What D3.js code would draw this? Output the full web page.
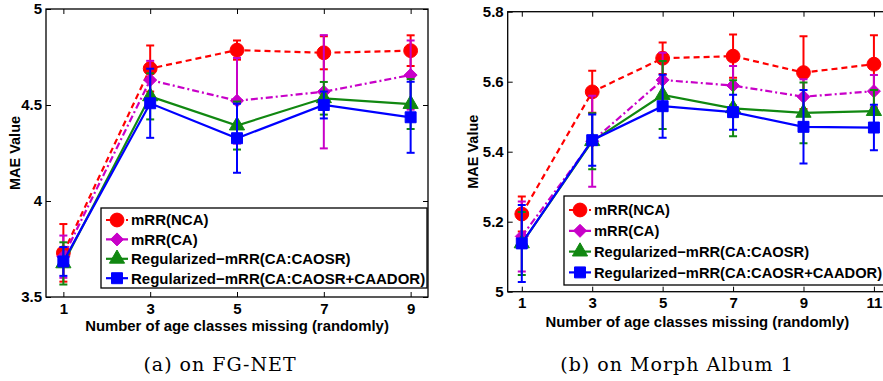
<!DOCTYPE html>
<html>
<head>
<meta charset="utf-8">
<script src="https://cdnjs.cloudflare.com/ajax/libs/d3/7.8.5/d3.min.js"></script>
<style>
  body { margin: 0; background: #fff; }
  svg { display: block; }
</style>
</head>
<body>
<svg id="chart" width="883" height="381"></svg>
<script>
// Series names (legend)
const seriesNames = ['mRR(NCA)', 'mRR(CA)', 'Regularized\u2212mRR(CA:CAOSR)', 'Regularized\u2212mRR(CA:CAOSR+CAADOR)'];

// (a) FG-NET
const fgX = [1, 3, 5, 7, 9];
const fgNCA = [3.73, 4.69, 4.786, 4.772, 4.783];
const fgNCAErr = [0.15, 0.12, 0.05, 0.086, 0.08];
const fgCA = [3.71, 4.63, 4.522, 4.569, 4.656];
const fgCAErr = [0.11, 0.1, 0.223, 0.295, 0.18];
const fgCAOSR = [3.675, 4.545, 4.393, 4.535, 4.505];
const fgCAOSRErr = [0.11, 0.12, 0.125, 0.085, 0.13];
const fgCAADOR = [3.685, 4.509, 4.327, 4.5, 4.436];
const fgCAADORErr = [0.075, 0.18, 0.18, 0.07, 0.185];
const fgYTicks = [3.5, 4, 4.5, 5];

// (b) Morph Album 1
const mbX = [1, 3, 5, 7, 9, 11];
const mbNCA = [5.222, 5.571, 5.667, 5.673, 5.626, 5.65];
const mbNCAErr = [0.05, 0.06, 0.045, 0.062, 0.104, 0.083];
const mbCA = [5.158, 5.43, 5.605, 5.589, 5.557, 5.573];
const mbCAErr = [0.1, 0.13, 0.078, 0.056, 0.05, 0.046];
const mbCAOSR = [5.138, 5.43, 5.562, 5.524, 5.511, 5.516];
const mbCAOSRErr = [0.09, 0.08, 0.097, 0.08, 0.087, 0.06];
const mbCAADOR = [5.138, 5.433, 5.53, 5.513, 5.471, 5.469];
const mbCAADORErr = [0.11, 0.073, 0.09, 0.05, 0.105, 0.065];
const mbYTicks = [5, 5.2, 5.4, 5.6, 5.8];

// Styles per series
const STYLES = [
  { color: '#ff0000', dash: '6,4', marker: 'circle' },
  { color: '#c800c8', dash: '7,3,2,3', marker: 'diamond' },
  { color: '#118811', dash: null, marker: 'triangle' },
  { color: '#0000ff', dash: null, marker: 'square' }
];

const FONT = '"Liberation Sans", Arial, Helvetica, sans-serif';
const svg = d3.select('#chart');

function markerPath(type) {
  if (type === 'circle') return d3.symbol(d3.symbolCircle, 150)();
  if (type === 'triangle') return d3.symbol(d3.symbolTriangle, 100)();
  if (type === 'square') return d3.symbol(d3.symbolSquare, 120)();
  // MATLAB style diamond: equal width and height
  const s = 6.5;
  return `M0,${-s}L${s},0L0,${s}L${-s},0Z`;
}

function drawPanel(cfg) {
  const g = svg.append('g');
  const x = d3.scaleLinear().domain(cfg.xDomain).range([cfg.left, cfg.right]);
  const y = d3.scaleLinear().domain(cfg.yDomain).range([cfg.bottom, cfg.top]);

  const clipId = 'clip-' + cfg.id;
  svg.append('clipPath').attr('id', clipId)
    .append('rect')
    .attr('x', cfg.left).attr('y', cfg.top)
    .attr('width', cfg.right - cfg.left).attr('height', cfg.bottom - cfg.top);

  // Axes (ticks inward, box on)
  const tickLen = 5;
  const axB = d3.axisBottom(x).tickValues(cfg.x).tickSizeInner(-tickLen).tickSizeOuter(0).tickPadding(6).tickFormat(d3.format('d'));
  const axT = d3.axisTop(x).tickValues(cfg.x).tickSizeInner(-tickLen).tickSizeOuter(0).tickFormat('');
  const axL = d3.axisLeft(y).tickValues(cfg.yTicks).tickSizeInner(-tickLen).tickSizeOuter(0).tickPadding(4).tickFormat(d => d3.format('')(d));
  const axR = d3.axisRight(y).tickValues(cfg.yTicks).tickSizeInner(-tickLen).tickSizeOuter(0).tickFormat('');

  [[axB, `translate(0,${cfg.bottom})`], [axT, `translate(0,${cfg.top})`],
   [axL, `translate(${cfg.left},0)`], [axR, `translate(${cfg.right},0)`]].forEach(([ax, tr]) => {
    const a = g.append('g').attr('transform', tr).call(ax);
    a.select('.domain').remove();
    a.selectAll('line').attr('stroke', '#000').attr('stroke-width', 1);
    a.selectAll('text')
      .attr('fill', '#000')
      .style('font-family', FONT)
      .style('font-weight', 'bold')
      .style('font-size', '15px');
  });

  // Box
  g.append('rect')
    .attr('x', cfg.left).attr('y', cfg.top)
    .attr('width', cfg.right - cfg.left).attr('height', cfg.bottom - cfg.top)
    .attr('fill', 'none').attr('stroke', '#000').attr('stroke-width', 1.3);

  // Series
  const plot = g.append('g').attr('clip-path', `url(#${clipId})`);
  cfg.series.forEach((vals, i) => {
    const st = STYLES[i];
    const errs = cfg.errors[i];
    const pts = cfg.x.map((xv, j) => ({ x: xv, y: vals[j], e: errs[j] }));
    const sg = plot.append('g');

    // Error bars
    const capW = 4;
    pts.forEach(p => {
      const px = x(p.x), y0 = y(p.y - p.e), y1 = y(p.y + p.e);
      sg.append('line').attr('x1', px).attr('x2', px).attr('y1', y0).attr('y2', y1)
        .attr('stroke', st.color).attr('stroke-width', 2);
      [y0, y1].forEach(cy => sg.append('line')
        .attr('x1', px - capW).attr('x2', px + capW).attr('y1', cy).attr('y2', cy)
        .attr('stroke', st.color).attr('stroke-width', 2));
    });

    // Line
    sg.append('path')
      .datum(pts)
      .attr('d', d3.line().x(d => x(d.x)).y(d => y(d.y)))
      .attr('fill', 'none')
      .attr('stroke', st.color)
      .attr('stroke-width', 2.2)
      .attr('stroke-dasharray', st.dash);

    // Markers
    sg.selectAll('.mk').data(pts).enter().append('path')
      .attr('class', 'mk')
      .attr('d', markerPath(st.marker))
      .attr('transform', d => `translate(${x(d.x)},${y(d.y)})`)
      .attr('fill', st.color)
      .attr('stroke', st.color)
      .attr('stroke-width', 1);
  });

  // Axis labels
  g.append('text')
    .attr('x', (cfg.left + Math.min(cfg.right, 883)) / 2 + cfg.xLabelShift)
    .attr('y', cfg.xLabelY)
    .attr('text-anchor', 'middle')
    .style('font-family', FONT).style('font-weight', 'bold').style('font-size', '14.9px')
    .text('Number of age classes missing (randomly)');

  g.append('text')
    .attr('transform', `translate(${cfg.yLabelX},${(cfg.top + cfg.bottom) / 2}) rotate(-90)`)
    .attr('text-anchor', 'middle')
    .style('font-family', FONT).style('font-weight', 'bold').style('font-size', '14.5px')
    .text('MAE Value');

  // Legend
  const lg = cfg.legend;
  const leg = g.append('g');
  leg.append('rect')
    .attr('x', lg.x).attr('y', lg.y).attr('width', lg.w).attr('height', lg.h)
    .attr('fill', '#fff').attr('stroke', '#000').attr('stroke-width', 1.3);
  seriesNames.forEach((name, i) => {
    const st = STYLES[i];
    const cy = lg.y + lg.first + i * lg.step;
    leg.append('line')
      .attr('x1', lg.x + 5).attr('x2', lg.x + 27).attr('y1', cy).attr('y2', cy)
      .attr('stroke', st.color).attr('stroke-width', 2.2).attr('stroke-dasharray', st.dash);
    leg.append('path')
      .attr('d', markerPath(st.marker))
      .attr('transform', `translate(${lg.x + 16},${cy})`)
      .attr('fill', st.color).attr('stroke', st.color);
    leg.append('text')
      .attr('x', lg.x + 30).attr('y', cy).attr('dy', '0.36em')
      .style('font-family', FONT).style('font-weight', 'bold').style('font-size', lg.font)
      .text(name);
  });

  // Caption
  svg.append('text')
    .attr('x', cfg.captionX).attr('y', 371)
    .attr('text-anchor', 'middle')
    .style('font-family', '"DejaVu Serif", "Liberation Serif", serif')
    .style('font-size', '19px')
    .style('letter-spacing', '1px')
    .text(cfg.caption);
}

drawPanel({
  id: 'a', left: 46, right: 428, top: 9, bottom: 297,
  xDomain: [0.6, 9.4], yDomain: [3.5, 5], x: fgX, yTicks: fgYTicks,
  series: [fgNCA, fgCA, fgCAOSR, fgCAADOR],
  errors: [fgNCAErr, fgCAErr, fgCAOSRErr, fgCAADORErr],
  xLabelShift: 0, xLabelY: 330.5, yLabelX: 20,
  legend: { x: 101, y: 208, w: 326, h: 80, first: 12, step: 19.4, font: '15px' },
  caption: '(a) on FG-NET', captionX: 220
});

drawPanel({
  id: 'b', left: 507.7, right: 888, top: 11.7, bottom: 291.7,
  xDomain: [0.6, 11.4], yDomain: [5, 5.8], x: mbX, yTicks: mbYTicks,
  series: [mbNCA, mbCA, mbCAOSR, mbCAADOR],
  errors: [mbNCAErr, mbCAErr, mbCAOSRErr, mbCAADORErr],
  xLabelShift: 2, xLabelY: 326.5, yLabelX: 478,
  legend: { x: 564, y: 196, w: 330, h: 89, first: 14, step: 20.8, font: '14.7px' },
  caption: '(b) on Morph Album 1', captionX: 677
});
</script>
</body>
</html>
